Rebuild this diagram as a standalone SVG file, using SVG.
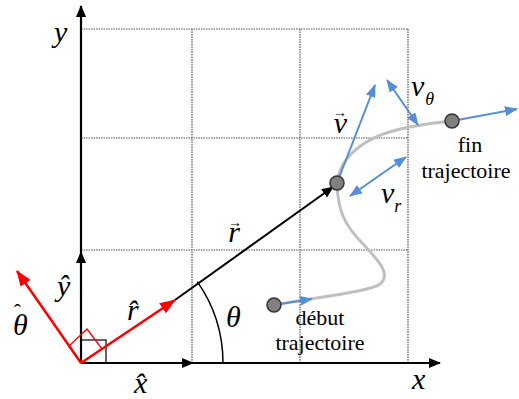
<svg xmlns="http://www.w3.org/2000/svg" width="519" height="399" viewBox="0 0 519 399">
<style>
.grid{stroke:#555;stroke-width:1.2;stroke-dasharray:1.5,1;fill:none}
.ax{stroke:#000;stroke-width:2.2;fill:none}
.red{stroke:#ff0000;stroke-width:2.5;fill:none}
.blue{stroke:#558ed5;stroke-width:2;fill:none}
.dot{fill:#808080;stroke:#333;stroke-width:1.5}
.m{font-family:'Liberation Serif','Times New Roman',serif;font-style:italic;font-size:30px;fill:#000}
.t{font-family:'Liberation Serif','Times New Roman',serif;font-size:22px;text-anchor:middle;fill:#000}
.sub{font-size:18px}
.acc{font-style:normal;font-size:22px}
.arr{font-style:normal;font-size:14px}
</style>
<defs>
<marker id="ak" markerWidth="12" markerHeight="10" refX="11" refY="5" orient="auto" markerUnits="userSpaceOnUse"><path d="M0,0 L12,5 L0,10 z" fill="#000"/></marker>
<marker id="ar" markerWidth="16" markerHeight="12" refX="15" refY="6" orient="auto" markerUnits="userSpaceOnUse"><path d="M0,0 L16,6 L0,12 z" fill="#ff0000"/></marker>
<marker id="ab" markerWidth="13" markerHeight="10" refX="12" refY="5" orient="auto" markerUnits="userSpaceOnUse"><path d="M0,0 L13,5 L0,10 z" fill="#558ed5"/></marker>
<marker id="abs" markerWidth="13" markerHeight="10" refX="1" refY="5" orient="auto" markerUnits="userSpaceOnUse"><path d="M13,0 L0,5 L13,10 z" fill="#558ed5"/></marker>
</defs>
<g id="grid">
<path class="grid" d="M81,29 H408 M81,138 H408 M81,250 H408 M192,29 V363 M300,29 V363 M408,29 V363"/>
</g>
<g id="connectors">
<path class="ax" d="M81,363 V6" marker-end="url(#ak)"/>
<path class="ax" d="M81,363 H440" marker-end="url(#ak)"/>
<path d="M81,363 H193" stroke="none" fill="none" marker-end="url(#ak)"/>
<path d="M81,363 V252" stroke="none" fill="none" marker-end="url(#ak)"/>
<rect x="81" y="340" width="25" height="23" fill="none" stroke="#000" stroke-width="1.2"/>
<path d="M175,300 L333,187" stroke="#000" stroke-width="2" fill="none" marker-end="url(#ak)"/>
<path d="M223,363 A142,142 0 0 0 197.3,281.6" stroke="#000" stroke-width="1.5" fill="none"/>
<path class="red" d="M81,363 L175,300" marker-end="url(#ar)"/>
<path class="red" d="M81,363 L17,271" marker-end="url(#ar)"/>
<path d="M69,346 L87,329 L102,349" stroke="#ff0000" stroke-width="1.3" fill="none"/>
<path d="M274,305 C310,298 370,292 380,284 C392,274 378,260 362,243 C345,225 338,212 337,184 C339,160 360,136 410,127 C425,124 440,122 452,121" stroke="#bfbfbf" stroke-width="3" fill="none"/>
<path class="blue" d="M337,183 L375,85" marker-end="url(#ab)"/>
<path class="blue" d="M387,80 L418,125" marker-start="url(#abs)" marker-end="url(#ab)"/>
<path class="blue" d="M350,196 L406,157" marker-start="url(#abs)" marker-end="url(#ab)"/>
<path class="blue" d="M452,121 L517,109" marker-end="url(#ab)"/>
<path class="blue" d="M274,305 L312,299" marker-end="url(#ab)"/>
</g>
<g id="dot-milieu"><circle class="dot" cx="337" cy="183" r="7"/></g>
<g id="dot-fin"><circle class="dot" cx="452" cy="121" r="7"/></g>
<g id="dot-debut"><circle class="dot" cx="274" cy="305" r="7"/></g>
<g id="labels">
<text class="m" x="54" y="42">y</text>
<text class="m" x="412" y="389">x</text>
<text class="m" x="134" y="393">x&#770;</text>
<text class="m" x="57" y="296">y&#770;</text>
<text class="m" x="127" y="320">r&#770;</text>
<text class="m" x="13" y="335">θ<tspan class="acc" dx="-14" dy="-16">ˆ</tspan></text>
<text class="m" x="226" y="327">θ</text>
<text class="m" x="228" y="242">r<tspan class="arr" dx="-12" dy="-15">→</tspan></text>
<text class="m" x="333" y="133">v<tspan class="arr" dx="-14" dy="-16">→</tspan></text>
<text class="m" x="411" y="96">v<tspan class="sub" dx="1" dy="9">θ</tspan></text>
<text class="m" x="381" y="203">v<tspan class="sub" dx="0" dy="9">r</tspan></text>
</g>
<g id="text-fin">
<text class="t" x="470" y="152">fin</text>
<text class="t" x="466" y="178">trajectoire</text>
</g>
<g id="text-debut">
<text class="t" x="320" y="325">début</text>
<text class="t" x="320" y="350">trajectoire</text>
</g>
</svg>
